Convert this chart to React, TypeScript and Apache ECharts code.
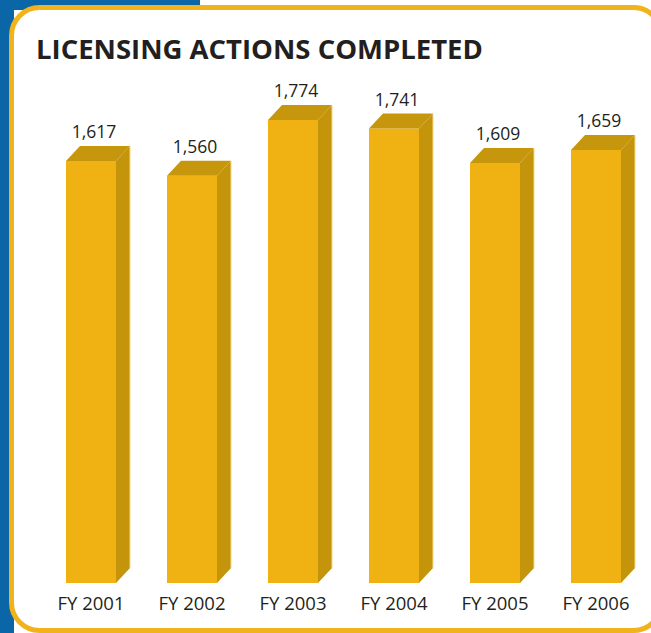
import React, { useEffect, useRef } from "react";
import * as echarts from "echarts";

const categories = ["FY 2001", "FY 2002", "FY 2003", "FY 2004", "FY 2005", "FY 2006"];
const values = [1617, 1560, 1774, 1741, 1609, 1659];
const valueLabels = ["1,617", "1,560", "1,774", "1,741", "1,609", "1,659"];

const FRONT = "#F0B213";
const SIDE = "#C4950A";
const TOP = "#C6970C";
const GOLD = "#F0B31B";
const BLUE = "#0B66A8";

export default function App() {
  const ref = useRef<HTMLDivElement>(null);
  useEffect(() => {
    if (!ref.current) return;
    const chart = echarts.init(ref.current, null, { renderer: "svg" });
    const halfW = 25;
    const dx = 14;
    const dy = 15;
    const option = {
      animation: false,
      backgroundColor: "#ffffff",
      title: {
        text: "LICENSING ACTIONS COMPLETED",
        left: 31,
        top: 29,
        textStyle: {
          fontFamily: "Open Sans",
          fontWeight: "bold",
          fontSize: 27.5,
          color: "#231F20",
        },
      },
      graphic: [
        { type: "rect", z: -10, shape: { x: 0, y: 0, width: 200, height: 10 }, style: { fill: BLUE } },
        { type: "rect", z: -10, shape: { x: 0, y: 0, width: 14, height: 633 }, style: { fill: BLUE } },
        {
          type: "rect",
          z: -5,
          shape: { x: 11.5, y: 7.5, width: 650, height: 623, r: 28 },
          style: { fill: "#ffffff", stroke: GOLD, lineWidth: 5 },
        },
      ],
      grid: { left: 40.5, right: 4.5, top: 61, bottom: 50 },
      xAxis: {
        type: "category",
        data: categories,
        axisLine: { show: false },
        axisTick: { show: false },
        axisLabel: {
          margin: 10,
          fontFamily: "Open Sans",
          fontSize: 18.5,
          color: "#231F20",
        },
      },
      yAxis: {
        type: "value",
        min: 0,
        max: 2000,
        show: false,
        splitLine: { show: false },
      },
      series: [
        {
          type: "custom",
          data: values.map((v, i) => [i, v]),
          renderItem: (params: any, api: any) => {
            const idx = api.value(0);
            const val = api.value(1);
            const topPt = api.coord([idx, val]);
            const botPt = api.coord([idx, 0]);
            const cx = topPt[0];
            const ty = topPt[1];
            const by = botPt[1];
            const l = cx - halfW;
            const r = cx + halfW;
            return {
              type: "group",
              children: [
                {
                  type: "rect",
                  shape: { x: l, y: ty, width: r - l, height: by - ty },
                  style: { fill: FRONT },
                },
                {
                  type: "polygon",
                  shape: {
                    points: [
                      [r, ty],
                      [r + dx, ty - dy],
                      [r + dx, by - dy],
                      [r, by],
                    ],
                  },
                  style: { fill: SIDE },
                },
                {
                  type: "polygon",
                  shape: {
                    points: [
                      [l, ty],
                      [l + dx, ty - dy],
                      [r + dx, ty - dy],
                      [r, ty],
                    ],
                  },
                  style: { fill: TOP },
                },
                {
                  type: "line",
                  shape: { x1: r + dx, y1: ty - dy, x2: r + dx, y2: by - dy },
                  style: { stroke: "#F6D98A", lineWidth: 1 },
                },
                {
                  type: "text",
                  style: {
                    text: valueLabels[params.dataIndex],
                    x: cx + 3,
                    y: ty - 30,
                    align: "center",
                    verticalAlign: "middle",
                    fontFamily: "Open Sans",
                    fontSize: 17.5,
                    fill: "#231F20",
                  },
                },
              ],
            };
          },
        },
      ],
    };
    chart.setOption(option as any);
    return () => chart.dispose();
  }, []);
  return (
    <div
      ref={ref}
      style={{ position: "fixed", left: 0, top: 0, width: 651, height: 633 }}
    />
  );
}
